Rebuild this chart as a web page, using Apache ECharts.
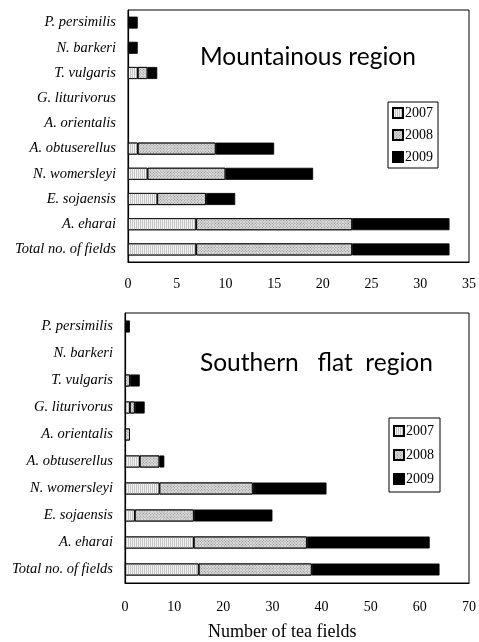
<!DOCTYPE html>
<html><head><meta charset="utf-8">
<script src="https://cdn.jsdelivr.net/npm/echarts@6/dist/echarts.min.js"></script>
<style>html,body{margin:0;padding:0;background:#fff}#c{width:479px;height:642px}</style>
</head><body><div id="c"></div>
<script>
const categories = ['P. persimilis','N. barkeri','T. vulgaris','G. liturivorus','A. orientalis','A. obtuserellus','N. womersleyi','E. sojaensis','A. eharai','Total no. of fields'];
const years = ['2007','2008','2009'];
// Mountainous region
const mtn2007 = [0,0,1,0,0,1,2,3,7,7];
const mtn2008 = [0,0,1,0,0,8,8,5,16,16];
const mtn2009 = [1,1,1,0,0,6,9,3,10,10];
// Southern flat region
const flat2007 = [0,0,0,1,0,3,7,2,14,15];
const flat2008 = [0,0,1,1,1,4,19,12,23,23];
const flat2009 = [1,0,2,2,0,1,15,16,25,26];

const serif = 'Liberation Serif';
const styles = {
  '2007': {color:'#f4f4f4', borderColor:'#000', borderWidth:0.8,
    decal:{symbol:'rect', symbolSize:1, dashArrayX:[1,1], dashArrayY:[4,0], color:'#c4c4c4'}},
  '2008': {color:'#dcdcdc', borderColor:'#000', borderWidth:0.8,
    decal:{symbol:'rect', symbolSize:1, dashArrayX:[1,1], dashArrayY:[1,1], rotation:-Math.PI/4, color:'#8a8a8a'}},
  '2009': {color:'#000', borderColor:'#000', borderWidth:0.8}
};
function ser(name, data, idx, stack, bw){
  return {type:'bar', name, data:data.map(v => v === 0 ? null : v), stack, xAxisIndex:idx, yAxisIndex:idx, barWidth:bw,
    itemStyle:styles[name], emphasis:{disabled:true}, animation:false};
}
function yAx(idx){
  return {type:'category', gridIndex:idx, data:categories, inverse:true,
    axisLine:{lineStyle:{color:'#000', width:1.2}},
    axisTick:{inside:true, length:5, lineStyle:{color:'#000'}},
    axisLabel:{fontFamily:serif, fontStyle:'italic', fontSize:14.5, color:'#000', margin:12}};
}
function xAx(idx, max, interval, margin){
  return {type:'value', gridIndex:idx, min:0, max, interval,
    axisLine:{show:true, lineStyle:{color:'#000', width:1.2}},
    axisTick:{show:false}, splitLine:{show:false},
    axisLabel:{fontFamily:serif, fontSize:14, color:'#000', margin}};
}
function leg(left, top, pad, gap){
  return {data:years, orient:'vertical', left, top, padding:pad, itemGap:gap,
    itemWidth:10, itemHeight:10, icon:'rect', borderColor:'#000', borderWidth:1,
    textStyle:{fontFamily:serif, fontSize:14, color:'#000', padding:[0,0,0,-3]}, selectedMode:false};
}
const chart = echarts.init(document.getElementById('c'), null, {renderer:'canvas'});
chart.setOption({
  backgroundColor:'#fff',
  animation:false,
  grid:[
    {left:128, top:10, width:344, height:252, show:true, borderColor:'#000', borderWidth:1, backgroundColor:'transparent'},
    {left:125, top:313, width:347, height:270, show:true, borderColor:'#000', borderWidth:1, backgroundColor:'transparent'}
  ],
  xAxis:[xAx(0,35,5,15), xAx(1,70,10,17)],
  yAxis:[yAx(0), yAx(1)],
  legend:[leg(388,102,[4,5,4,4],8), leg(389,418,[6,6,6,4],10)],
  graphic:[
    {type:'text', left:200, top:45, style:{text:'Mountainous region', font:'24.5px Lato', fill:'#000'}},
    {type:'text', left:200, top:351, style:{text:'Southern   flat  region', font:'24.5px Lato', fill:'#000'}},
    {type:'text', left:208, top:623, style:{text:'Number of tea fields', font:'18px "Liberation Serif"', fill:'#000'}}
  ],
  series:[
    ser('2007', mtn2007, 0, 'm', 12), ser('2008', mtn2008, 0, 'm', 12), ser('2009', mtn2009, 0, 'm', 12),
    ser('2007', flat2007, 1, 'f', 12), ser('2008', flat2008, 1, 'f', 12), ser('2009', flat2009, 1, 'f', 12)
  ]
});
</script></body></html>
